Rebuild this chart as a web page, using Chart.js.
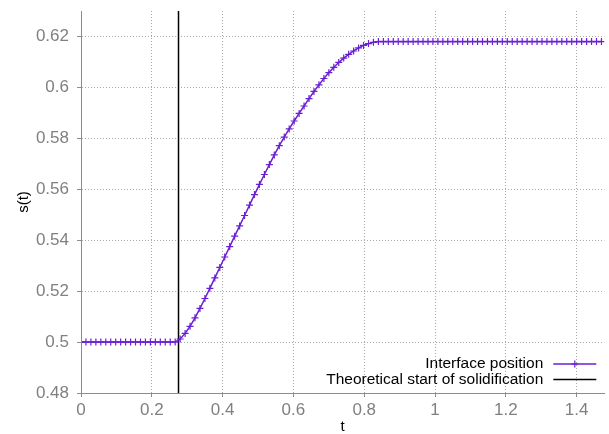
<!DOCTYPE html>
<html>
<head>
<meta charset="utf-8">
<script src="https://cdn.jsdelivr.net/npm/chart.js@4/dist/chart.umd.min.js"></script>
<style>
  html, body { margin: 0; padding: 0; background: #ffffff; }
  #wrap { width: 609px; height: 434px; }
</style>
</head>
<body>
<div id="wrap"><canvas id="c" width="609" height="434"></canvas></div>
<script>
// ---- data ----
const tValues = [
  0, 0.014, 0.028, 0.042, 0.056, 0.07, 0.084, 0.098, 0.112, 0.126,
  0.14, 0.154, 0.168, 0.182, 0.196, 0.21, 0.224, 0.238, 0.252, 0.266,
  0.28, 0.294, 0.308, 0.322, 0.336, 0.35, 0.364, 0.378, 0.392, 0.406,
  0.42, 0.434, 0.448, 0.462, 0.476, 0.49, 0.504, 0.518, 0.532, 0.546,
  0.56, 0.574, 0.588, 0.602, 0.616, 0.63, 0.644, 0.658, 0.672, 0.686,
  0.7, 0.714, 0.728, 0.742, 0.756, 0.77, 0.784, 0.798, 0.812, 0.826,
  0.84, 0.854, 0.868, 0.882, 0.896, 0.91, 0.924, 0.938, 0.952, 0.966,
  0.98, 0.994, 1.008, 1.022, 1.036, 1.05, 1.064, 1.078, 1.092, 1.106,
  1.12, 1.134, 1.148, 1.162, 1.176, 1.19, 1.204, 1.218, 1.232, 1.246,
  1.26, 1.274, 1.288, 1.302, 1.316, 1.33, 1.344, 1.358, 1.372, 1.386,
  1.4, 1.414, 1.428, 1.442, 1.456, 1.47
];
const interfacePosition = [
  0.5, 0.5, 0.5, 0.5, 0.5, 0.5, 0.5, 0.5, 0.5, 0.5,
  0.5, 0.5, 0.5, 0.5, 0.5, 0.5, 0.5, 0.5, 0.5, 0.5,
  0.5012, 0.5034, 0.5062, 0.5095, 0.5132, 0.5171, 0.5211, 0.5252, 0.5293, 0.5334,
  0.5375, 0.5416, 0.5456, 0.5497, 0.5538, 0.5579, 0.5619, 0.5658, 0.5697, 0.5735,
  0.5771, 0.5805, 0.5837, 0.5868, 0.5898, 0.5927, 0.5956, 0.5984, 0.6010, 0.6035,
  0.6058, 0.6079, 0.6098, 0.6115, 0.6130, 0.6143, 0.6155, 0.6165, 0.6172, 0.6177,
  0.6180, 0.618, 0.618, 0.618, 0.618, 0.618, 0.618, 0.618, 0.618, 0.618,
  0.618, 0.618, 0.618, 0.618, 0.618, 0.618, 0.618, 0.618, 0.618, 0.618,
  0.618, 0.618, 0.618, 0.618, 0.618, 0.618, 0.618, 0.618, 0.618, 0.618,
  0.618, 0.618, 0.618, 0.618, 0.618, 0.618, 0.618, 0.618, 0.618, 0.618,
  0.618, 0.618, 0.618, 0.618, 0.618, 0.618
];
const solidificationStartT = [0.2754, 0.2754];
const solidificationStartS = [0.48, 0.63];
const seriesLabels = ['Interface position', 'Theoretical start of solidification'];
const xTicks = [0, 0.2, 0.4, 0.6, 0.8, 1, 1.2, 1.4];
const yTicks = [0.48, 0.5, 0.52, 0.54, 0.56, 0.58, 0.6, 0.62];
const xRange = [0, 1.478];
const yRange = [0.48, 0.63];
const xTitle = 't';
const yTitle = 's(t)';

// ---- chart ----
const FONT = "'Liberation Sans', Arial, Helvetica, sans-serif";
const PURPLE = '#6a1fd2';

const legendPlugin = {
  id: 'gpLegend',
  afterDatasetsDraw(chart) {
    const ctx = chart.ctx;
    const a = chart.chartArea;
    const textRight = a.right - 61;
    const lineL = a.right - 51;
    const lineR = a.right - 8;
    const rows = [a.bottom - 29, a.bottom - 13.5];
    ctx.save();
    ctx.font = '15.5px ' + FONT;
    ctx.textAlign = 'right';
    ctx.textBaseline = 'middle';
    chart.data.datasets.forEach((ds, i) => {
      const y = rows[i];
      ctx.fillStyle = '#000000';
      ctx.fillText(ds.label, textRight, y);
      ctx.strokeStyle = ds.borderColor;
      ctx.lineWidth = ds.borderWidth;
      ctx.beginPath();
      ctx.moveTo(lineL, y);
      ctx.lineTo(lineR, y);
      ctx.stroke();
      if (ds.pointRadius > 0) {
        const cx = (lineL + lineR) / 2;
        const r = ds.pointRadius;
        ctx.lineWidth = ds.pointBorderWidth;
        ctx.strokeStyle = ds.pointBorderColor;
        ctx.beginPath();
        ctx.moveTo(cx - r, y); ctx.lineTo(cx + r, y);
        ctx.moveTo(cx, y - r); ctx.lineTo(cx, y + r);
        ctx.stroke();
      }
    });
    ctx.restore();
  }
};

const fmt = v => String(Number(v.toFixed(3)));

const axisCommon = {
  border: { display: true, color: '#8c8c8c', width: 1, dash: [1, 2] },
  grid: {
    color: '#a8a8a8',
    lineWidth: 1,
    tickLength: 4,
    tickColor: '#8c8c8c',
    tickBorderDash: [],
    drawTicks: true
  }
};

const solidBorder = {
  id: 'solidBorder',
  afterDraw(chart) {
    const a = chart.chartArea;
    const ctx = chart.ctx;
    ctx.save();
    ctx.strokeStyle = '#8c8c8c';
    ctx.lineWidth = 1;
    ctx.setLineDash([]);
    ctx.beginPath();
    ctx.moveTo(Math.round(a.left) + 0.5, a.top);
    ctx.lineTo(Math.round(a.left) + 0.5, Math.round(a.bottom) + 0.5);
    ctx.lineTo(a.right, Math.round(a.bottom) + 0.5);
    ctx.stroke();
    ctx.restore();
  }
};

new Chart(document.getElementById('c'), {
  type: 'scatter',
  data: {
    datasets: [
      {
        label: seriesLabels[0],
        data: tValues.map((t, i) => ({ x: t, y: interfacePosition[i] })),
        showLine: true,
        borderColor: PURPLE,
        backgroundColor: PURPLE,
        borderWidth: 1.5,
        pointStyle: 'cross',
        pointRadius: 3.5,
        pointBorderWidth: 1.2,
        pointBorderColor: PURPLE,
        pointHoverRadius: 3.5,
        order: 1
      },
      {
        label: seriesLabels[1],
        data: solidificationStartT.map((t, i) => ({ x: t, y: solidificationStartS[i] })),
        showLine: true,
        borderColor: '#000000',
        backgroundColor: '#000000',
        borderWidth: 1.5,
        pointRadius: 0,
        pointHoverRadius: 0,
        order: 2
      }
    ]
  },
  options: {
    responsive: false,
    animation: false,
    devicePixelRatio: 1,
    layout: { padding: { top: 11, right: 1, left: 0, bottom: 0 } },
    plugins: {
      legend: { display: false },
      tooltip: { enabled: false }
    },
    scales: {
      x: {
        type: 'linear',
        min: xRange[0],
        max: xRange[1],
        afterFit(s) { s.height = 41; s.paddingLeft = 0; s.paddingRight = 0; },
        afterBuildTicks(s) { s.ticks = xTicks.map(v => ({ value: v })); },
        border: axisCommon.border,
        grid: axisCommon.grid,
        ticks: {
          color: '#808080',
          font: { family: FONT, size: 17 },
          padding: 3,
          maxRotation: 0,
          callback: v => fmt(v)
        },
        title: {
          display: true,
          text: xTitle,
          color: '#000000',
          font: { family: FONT, size: 15, lineHeight: 1 },
          padding: { top: 0, bottom: 0 }
        }
      },
      y: {
        type: 'linear',
        min: yRange[0],
        max: yRange[1],
        afterFit(s) { s.width = 81; s.paddingTop = 0; s.paddingBottom = 0; },
        afterBuildTicks(s) { s.ticks = yTicks.map(v => ({ value: v })); },
        border: axisCommon.border,
        grid: axisCommon.grid,
        ticks: {
          color: '#808080',
          font: { family: FONT, size: 17 },
          padding: 8,
          callback: v => fmt(v)
        },
        title: {
          display: true,
          text: yTitle,
          color: '#000000',
          font: { family: FONT, size: 15 },
          padding: { top: 15, bottom: 0 }
        }
      }
    }
  },
  plugins: [legendPlugin, solidBorder]
});
</script>
</body>
</html>
